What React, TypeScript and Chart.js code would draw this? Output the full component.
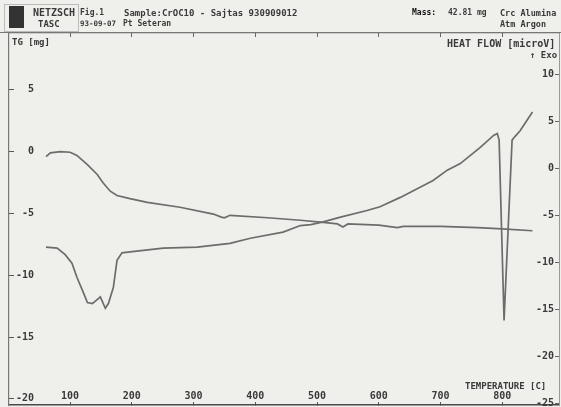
import React, { useEffect, useRef } from "react";
import { Chart, registerables } from "chart.js";

Chart.register(...registerables);

// ---- data ----
const tgTemp = [61, 68, 84, 100, 111, 128, 144, 153, 165, 176, 197, 225, 278, 332, 345, 350, 359, 420, 473, 510, 533, 542, 550, 600, 630, 640, 700, 760, 800, 849];
const tgMass = [-0.4, -0.1, 0.0, -0.05, -0.3, -1.05, -1.85, -2.5, -3.2, -3.55, -3.8, -4.1, -4.5, -5.05, -5.3, -5.35, -5.15, -5.35, -5.55, -5.72, -5.85, -6.1, -5.85, -5.95, -6.15, -6.05, -6.05, -6.15, -6.25, -6.4];

const dscTemp = [61, 79, 92, 103, 111, 120, 128, 136, 140, 149, 157, 162, 170, 176, 184, 197, 251, 306, 359, 392, 445, 473, 490, 510, 538, 581, 602, 635, 688, 711, 732, 764, 786, 792, 795, 803, 816, 821, 829, 849];
const dscHeat = [-8.4, -8.5, -9.2, -10.1, -11.6, -13.0, -14.3, -14.4, -14.2, -13.7, -14.9, -14.4, -12.7, -9.8, -9.0, -8.9, -8.5, -8.4, -8.0, -7.45, -6.8, -6.1, -6.0, -5.7, -5.2, -4.5, -4.1, -3.1, -1.3, -0.2, 0.5, 2.2, 3.5, 3.7, 3.0, -16.2, 3.0, 3.4, 4.0, 6.0];

const tempTicks = [100, 200, 300, 400, 500, 600, 700, 800];
const tgTicks = [-20, -15, -10, -5, 0, 5];
const heatTicks = [-25, -20, -15, -10, -5, 0, 5, 10];

const INK = "#3a3a3a";
const LINE = "#6c6c6c";
const MONO = '"DejaVu Sans Mono", "Liberation Mono", monospace';

function Txt(props: { x: number; y: number; size: number; children: any; color?: string }) {
  return (
    <div
      style={{
        position: "absolute",
        left: props.x,
        top: props.y - props.size / 2,
        fontSize: props.size,
        lineHeight: "1",
        whiteSpace: "pre",
        color: props.color || INK,
      }}
    >
      {props.children}
    </div>
  );
}

const noPad = (s: any) => {
  s.paddingTop = 0;
  s.paddingBottom = 0;
  s.paddingLeft = 0;
  s.paddingRight = 0;
};

export default function App() {
  const ref = useRef<HTMLCanvasElement>(null);

  useEffect(() => {
    document.body.style.margin = "0";
    const tickFont = { family: MONO, size: 10, weight: "bold" as const };
    const chart = new Chart(ref.current!, {
      type: "line",
      data: {
        datasets: [
          {
            label: "TG",
            data: tgTemp.map((t, i) => ({ x: t, y: tgMass[i] })),
            yAxisID: "yTG",
            borderColor: LINE,
            borderWidth: 1.7,
            pointRadius: 0,
            tension: 0,
            fill: false,
          },
          {
            label: "HEAT FLOW",
            data: dscTemp.map((t, i) => ({ x: t, y: dscHeat[i] })),
            yAxisID: "yHF",
            borderColor: LINE,
            borderWidth: 1.7,
            pointRadius: 0,
            tension: 0,
            fill: false,
          },
        ],
      },
      options: {
        responsive: false,
        animation: false,
        events: [],
        layout: { padding: { top: 33, left: 0, right: 0, bottom: 0 } },
        plugins: { legend: { display: false }, tooltip: { enabled: false } },
        scales: {
          x: {
            type: "linear",
            position: "bottom",
            min: 1,
            max: 892,
            afterBuildTicks: (s: any) => {
              s.ticks = tempTicks.map((v) => ({ value: v }));
            },
            afterFit: (s: any) => {
              s.height = 2;
              noPad(s);
            },
            grid: { drawOnChartArea: false, drawTicks: true, tickLength: -3, color: "#555" },
            border: { display: true, color: "#4a4a4a", width: 1.5 },
            ticks: { mirror: true, padding: 3, font: tickFont, color: INK, maxRotation: 0, autoSkip: false },
          },
          x2: {
            type: "linear",
            position: "top",
            min: 1,
            max: 892,
            afterBuildTicks: (s: any) => {
              s.ticks = tempTicks.map((v) => ({ value: v }));
            },
            afterFit: (s: any) => {
              s.height = 0;
              noPad(s);
            },
            grid: { drawOnChartArea: false, drawTicks: true, tickLength: -4, color: "#666" },
            border: { display: true, color: "#666", width: 1.2 },
            ticks: { display: false },
          },
          yTG: {
            type: "linear",
            position: "left",
            min: -20.5,
            max: 9.6,
            afterBuildTicks: (s: any) => {
              s.ticks = tgTicks.map((v) => ({ value: v }));
            },
            afterFit: (s: any) => {
              s.width = 9;
              noPad(s);
            },
            grid: { drawOnChartArea: false, drawTicks: true, tickLength: -5, color: "#555" },
            border: { display: true, color: "#777", width: 1.2 },
            ticks: { mirror: true, crossAlign: "far", padding: 7, font: tickFont, color: INK },
          },
          yHF: {
            type: "linear",
            position: "right",
            min: -25.2,
            max: 14.4,
            afterBuildTicks: (s: any) => {
              s.ticks = heatTicks.map((v) => ({ value: v }));
            },
            afterFit: (s: any) => {
              s.width = 2;
              noPad(s);
            },
            grid: { drawOnChartArea: false, drawTicks: true, tickLength: -4, color: "#666" },
            border: { display: true, color: "#999", width: 1 },
            ticks: { mirror: true, padding: -5, font: tickFont, color: INK },
          },
        },
      },
    });
    return () => chart.destroy();
  }, []);

  return (
    <div
      style={{
        position: "relative",
        width: 561,
        height: 407,
        background: "#efefec",
        overflow: "hidden",
        fontFamily: MONO,
        fontWeight: "bold",
      }}
    >
      <canvas ref={ref} width={561} height={407} style={{ position: "absolute", left: 0, top: 0 }} />
      {/* header */}
      <div style={{ position: "absolute", left: 4, top: 4, width: 73, height: 26, border: "1px solid #bbb" }} />
      <div style={{ position: "absolute", left: 9, top: 6, width: 15, height: 22, background: "#333" }} />
      <div style={{ position: "absolute", left: 0, top: 32, width: 561, height: 1, background: "#777" }} />
      <Txt x={33} y={13} size={10}>NETZSCH</Txt>
      <Txt x={38} y={24} size={9}>TASC</Txt>
      <Txt x={80} y={13} size={8}>Fig.1</Txt>
      <Txt x={80} y={24} size={7.5}>93-09-07</Txt>
      <Txt x={124} y={13} size={9}>Sample:CrOC10 - Sajtas 930909012</Txt>
      <Txt x={123} y={24} size={8}>Pt Seteran</Txt>
      <Txt x={412} y={13} size={8} color="#111">Mass:</Txt>
      <Txt x={448} y={13} size={8}>42.81 mg</Txt>
      <Txt x={500} y={13} size={8.5}>Crc Alumina</Txt>
      <Txt x={500} y={24} size={8.5}>Atm Argon</Txt>
      {/* axis titles */}
      <Txt x={12} y={42} size={9}>TG [mg]</Txt>
      <Txt x={447} y={44} size={10}>HEAT FLOW [microV]</Txt>
      <Txt x={530} y={55} size={9}>↑ Exo</Txt>
      <Txt x={465} y={386} size={9}>TEMPERATURE [C]</Txt>
    </div>
  );
}
